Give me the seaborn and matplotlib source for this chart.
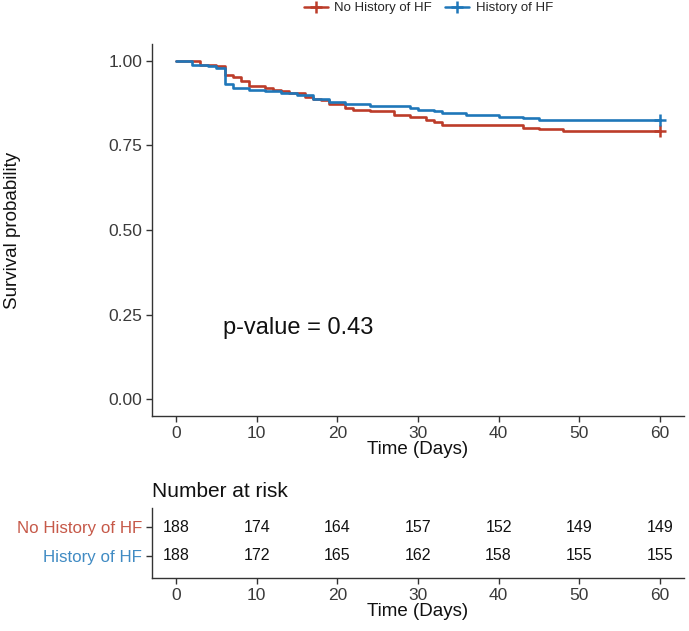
import numpy as np
import pandas as pd
import seaborn as sns
import matplotlib.pyplot as plt

# Kaplan-Meier steps
groups = ["No History of HF", "History of HF"]
colors = ["#BC3C29", "#1F77B9"]

t_no = [0, 3, 5, 6, 7, 8, 9, 11, 12, 13, 14, 16, 17, 18, 19, 21, 22, 24, 27, 29,
        31, 32, 33, 43, 45, 48, 60]
s_no = [1.000, 0.989, 0.984, 0.957, 0.952, 0.941, 0.926, 0.920, 0.915, 0.910, 0.904,
        0.894, 0.888, 0.883, 0.872, 0.862, 0.856, 0.851, 0.840, 0.835, 0.824, 0.819,
        0.809, 0.803, 0.798, 0.793, 0.793]

t_hf = [0, 2, 4, 5, 6, 7, 9, 11, 13, 15, 17, 19, 21, 24, 29, 30, 32, 33, 36, 40,
        43, 45, 60]
s_hf = [1.000, 0.989, 0.984, 0.979, 0.931, 0.920, 0.915, 0.910, 0.904, 0.899, 0.888,
        0.878, 0.872, 0.867, 0.862, 0.856, 0.851, 0.846, 0.840, 0.835, 0.830, 0.824,
        0.824]

# censored at end of follow-up
cens_t = [60, 60]
cens_s = [0.793, 0.824]

risk_times = [0, 10, 20, 30, 40, 50, 60]
risk_no = [188, 174, 164, 157, 152, 149, 149]
risk_hf = [188, 172, 165, 162, 158, 155, 155]

pval_text = "p-value = 0.43"

df = pd.concat([
    pd.DataFrame({"time": t_no, "surv": s_no, "group": groups[0]}),
    pd.DataFrame({"time": t_hf, "surv": s_hf, "group": groups[1]}),
])

sns.set_theme(style="ticks")
plt.rcParams['font.family'] = ['Liberation Sans', 'DejaVu Sans']

fig = plt.figure(figsize=(6.89, 6.31), dpi=100)
ax = fig.add_axes([0.2206, 0.3407, 0.772, 0.5896])
ax_t = fig.add_axes([0.2206, 0.084, 0.772, 0.111])

pal = dict(zip(groups, colors))
sns.lineplot(data=df, x="time", y="surv", hue="group", palette=pal,
             drawstyle="steps-post", linewidth=1.9, ax=ax, legend=False,
             estimator=None)
for g, c, tc, sc in zip(groups, colors, cens_t, cens_s):
    ax.plot(tc, sc, marker="+", ms=9, mew=1.8, color=c, ls="none")

ax.set_xlim(-3, 63)
ax.set_ylim(-0.05, 1.05)
ax.set_xticks(risk_times)
ax.set_yticks([0, 0.25, 0.5, 0.75, 1.0])
ax.set_yticklabels(["0.00", "0.25", "0.50", "0.75", "1.00"])
ax.tick_params(labelsize=12.5, colors="#333333", labelcolor="#3a3a3a", length=4, width=1, pad=3)
for s in ["left", "bottom"]:
    ax.spines[s].set_color("#333333")
    ax.spines[s].set_linewidth(1)
sns.despine(ax=ax)
ax.set_xlabel("Time (Days)", fontsize=13.5, color="#111111")
ax.set_ylabel("Survival probability", fontsize=13.5, color="#111111")
ax.yaxis.set_label_coords(-0.246, 0.5)
ax.xaxis.set_label_coords(0.5, -0.067)
ax.text(5.8, 0.21, pval_text, fontsize=17, va="center", ha="left", color="#111111")

# legend
handles = [plt.Line2D([], [], color=c, lw=1.8, marker="+", ms=9, mew=1.8) for c in colors]
fig.legend(handles, groups, loc="center", bbox_to_anchor=(0.622, 0.987), ncol=2,
           frameon=False, handlelength=1.8, columnspacing=1.0, handletextpad=0.5,
           prop={'family': ['Liberation Sans Narrow', 'Liberation Sans'], 'size': 9.5})

# risk table
for i, vals in enumerate([risk_hf, risk_no]):
    for t, v in zip(risk_times, vals):
        ax_t.text(t, i, str(v), ha="center", va="center", fontsize=11.5, color="#111111")
ax_t.set_xlim(-3, 63)
ax_t.set_ylim(-0.76, 1.66)
ax_t.set_xticks(risk_times)
ax_t.set_yticks([0, 1])
ax_t.set_yticklabels([groups[1], groups[0]])
ax_t.tick_params(labelsize=12.2, colors="#333333", length=4, width=1, pad=3)
ax_t.tick_params(axis="x", labelsize=12.5)
for lbl, c in zip(ax_t.get_yticklabels(), [colors[1], colors[0]]):
    lbl.set_color(c)
    lbl.set_alpha(0.85)
for lbl in ax_t.get_xticklabels():
    lbl.set_color("#3a3a3a")
for s in ["left", "bottom"]:
    ax_t.spines[s].set_color("#333333")
    ax_t.spines[s].set_linewidth(1)
sns.despine(ax=ax_t)
ax_t.set_xlabel("Time (Days)", fontsize=13.5, color="#111111")
ax_t.set_ylabel("")
ax_t.xaxis.set_label_coords(0.5, -0.36)
fig.text(0.2206, 0.2205, "Number at risk", fontsize=15, ha="left", va="center", color="#111111")

fig.savefig("out.png", dpi=100)
